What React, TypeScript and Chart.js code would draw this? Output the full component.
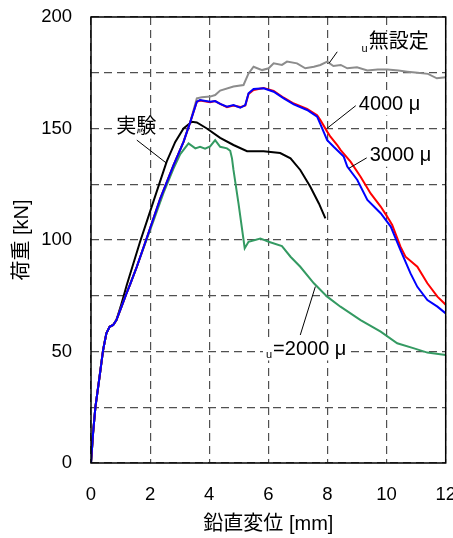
import { useEffect, useRef } from "react";
import { Chart, registerables } from "chart.js";
Chart.register(...registerables);

// ---- data (x: 鉛直変位 [mm], y: 荷重 [kN]) ----
const xTicks = [0, 2, 4, 6, 8, 10, 12];
const yTickLabels = [0, 50, 100, 150, 200];

const xNone = [0, 0.07, 0.15, 0.29, 0.41, 0.52, 0.63, 0.75, 0.86, 1.03, 1.2, 1.32, 1.55, 1.89, 2.34, 2.79, 3.13, 3.36, 3.58, 3.75, 4.03, 4.2, 4.37, 4.82, 5.16, 5.33, 5.5, 5.79, 6.01, 6.18, 6.46, 6.63, 6.97, 7.25, 7.54, 7.76, 7.99, 8.2, 8.45, 8.67, 9.0, 9.35, 9.7, 10.03, 10.4, 10.7, 11.05, 11.4, 11.7, 12];
const yNone = [0, 13.4, 25.2, 38.7, 50.7, 58.2, 61.1, 61.9, 64.1, 70, 76, 80, 88, 101, 118.5, 133.5, 144, 153, 163.5, 164, 164.3, 165, 167, 168.8, 169.5, 174.7, 177.7, 176.2, 177, 179.2, 178.5, 180, 179.2, 177, 177.7, 178.5, 180, 178, 178.5, 177, 177.5, 176, 176.5, 176.5, 176, 175.5, 175, 174.5, 172.5, 173];

const xExp = [0, 0.07, 0.15, 0.29, 0.41, 0.52, 0.63, 0.75, 0.86, 1.0, 1.21, 1.66, 2.11, 2.56, 2.85, 3.13, 3.41, 3.58, 3.92, 4.37, 4.82, 5.28, 5.84, 6.4, 6.75, 7.08, 7.42, 7.71, 7.93];
const yExp = [0, 13.4, 25.2, 38.7, 50.7, 58.2, 61.1, 61.9, 64.1, 70, 79.8, 99.2, 117.2, 135.1, 144, 150, 153, 152.7, 150, 145.8, 142.6, 139.8, 139.8, 139, 136.6, 131.4, 123.9, 116.4, 109.7];

const x2000 = [0, 0.07, 0.15, 0.29, 0.41, 0.52, 0.63, 0.75, 0.86, 1.03, 1.2, 1.32, 1.55, 1.89, 2.11, 2.45, 2.79, 3.02, 3.3, 3.53, 3.69, 3.86, 4.03, 4.2, 4.37, 4.6, 4.71, 4.77, 4.82, 4.99, 5.2, 5.33, 5.73, 6.01, 6.46, 6.75, 7.08, 7.54, 7.99, 8.44, 9.12, 9.8, 10.36, 10.93, 11.38, 12];
const y2000 = [0, 13.4, 25.2, 38.7, 50.7, 58.2, 61.1, 61.9, 64.1, 70, 76, 80, 88, 100.5, 108.5, 121, 132, 138.5, 143.3, 141.1, 141.8, 141, 142, 144.8, 141.8, 141.1, 140, 136.6, 131.4, 116.4, 96.3, 99.2, 100.7, 99.2, 97.3, 92.5, 88, 80.6, 74.6, 70.1, 64.1, 58.9, 53.7, 51.4, 49.5, 48.4];

const x4000 = [0, 0.07, 0.15, 0.29, 0.41, 0.52, 0.63, 0.75, 0.86, 1.03, 1.2, 1.32, 1.55, 1.89, 2.34, 2.79, 3.13, 3.36, 3.58, 3.69, 4.03, 4.2, 4.37, 4.6, 4.82, 5.05, 5.22, 5.33, 5.5, 5.84, 6.18, 6.52, 6.86, 7.31, 7.65, 7.76, 7.99, 8.1, 8.33, 8.44, 8.78, 9.12, 9.46, 9.8, 10.02, 10.19, 10.47, 10.64, 11.04, 11.38, 11.72, 12];
const y4000 = [0, 13.4, 25.2, 38.7, 50.7, 58.2, 61.1, 61.9, 64.1, 70, 76, 80, 88, 101, 118.5, 133.5, 144, 153, 162, 162.5, 161.8, 162.3, 161, 159.6, 160.3, 159.6, 160.3, 165.5, 167.3, 168.2, 166.8, 163.8, 161.2, 158.8, 156, 153.8, 148.6, 146.3, 142.6, 140.4, 135.1, 128.4, 120.9, 115, 110.5, 106.7, 97, 92.5, 88, 80.6, 74.6, 71];

const x3000 = [0, 0.07, 0.15, 0.29, 0.41, 0.52, 0.63, 0.75, 0.86, 1.03, 1.2, 1.32, 1.55, 1.89, 2.34, 2.79, 3.13, 3.36, 3.58, 3.69, 4.03, 4.2, 4.37, 4.6, 4.82, 5.05, 5.22, 5.33, 5.5, 5.84, 6.18, 6.52, 6.86, 7.31, 7.65, 7.76, 7.99, 8.21, 8.55, 8.67, 9.01, 9.35, 9.8, 10.14, 10.47, 10.81, 11.04, 11.38, 11.72, 12];
const y3000 = [0, 13.4, 25.2, 38.7, 50.7, 58.2, 61.1, 61.9, 64.1, 70, 76, 80, 88, 101, 118.5, 133.5, 144, 153, 162, 162.8, 162, 162.3, 161, 159.8, 160.5, 159.3, 160.5, 165.8, 167.7, 168, 166.5, 163.5, 160.8, 158.3, 155.3, 152, 144.8, 141.8, 137.4, 132.9, 126.9, 118, 112, 106, 95.5, 85, 79, 73.1, 70.1, 67.1];

// annotation texts (anchored in data units)
const labelTexts = ["無設定", "4000 μ", "3000 μ", "実験", "=2000 μ"];
const labelSubs = ["u", "", "", "", "u"];
const labelX = [10.41, 10.1, 10.47, 1.53, 7.4];
const labelY = [188.5, 160.8, 137.8, 150.4, 50.9];
const leaderFrom = [[8.33, 184.4], [9.06, 161.3], [9.4, 137.4], [1.55, 144.8], [7.08, 57.4]];
const leaderTo = [[8.05, 179.2], [7.99, 150.1], [8.72, 132.1], [2.56, 134.4], [7.59, 79.1]];

const FONT = '"Liberation Sans", Arial, "Noto Sans CJK JP", sans-serif';

const pts = (xs: number[], ys: number[]) => xs.map((x, i) => ({ x, y: ys[i] }));

const overlay = {
  id: "overlay",
  afterDatasetsDraw(chart: any) {
    const { ctx, chartArea: a, scales } = chart;
    const xs = scales.x;
    const ys = scales.y;
    ctx.save();
    ctx.strokeStyle = "#000";
    ctx.lineWidth = 1;
    ctx.setLineDash([]);
    for (let i = 0; i < leaderFrom.length; i++) {
      ctx.beginPath();
      ctx.moveTo(xs.getPixelForValue(leaderFrom[i][0]), ys.getPixelForValue(leaderFrom[i][1]));
      ctx.lineTo(xs.getPixelForValue(leaderTo[i][0]), ys.getPixelForValue(leaderTo[i][1]));
      ctx.stroke();
    }
    const size = 20;
    const subSize = 11;
    for (let i = 0; i < labelTexts.length; i++) {
      const cx = xs.getPixelForValue(labelX[i]);
      const cy = ys.getPixelForValue(labelY[i]);
      ctx.font = `${size}px ${FONT}`;
      const w = ctx.measureText(labelTexts[i]).width;
      ctx.font = `${subSize}px ${FONT}`;
      const sw = labelSubs[i] ? ctx.measureText(labelSubs[i]).width + 1 : 0;
      const left = cx - w / 2 - sw;
      ctx.fillStyle = "#fff";
      ctx.fillRect(left - 3, cy - size / 2 - 1, w + sw + 6, size + 2);
      ctx.fillStyle = "#000";
      ctx.textAlign = "left";
      if (labelSubs[i]) {
        ctx.textBaseline = "alphabetic";
        ctx.fillText(labelSubs[i], left, cy + 9);
      }
      ctx.font = `${size}px ${FONT}`;
      ctx.textBaseline = "middle";
      ctx.fillText(labelTexts[i], cx - w / 2, cy);
    }
    ctx.strokeStyle = "#000";
    ctx.lineWidth = 1.5;
    ctx.strokeRect(a.left, a.top, a.right - a.left, a.bottom - a.top);
    ctx.restore();
  },
};

export default function App() {
  const ref = useRef<HTMLCanvasElement>(null);
  useEffect(() => {
    if (!ref.current) return;
    const common = { pointRadius: 0, borderWidth: 2, tension: 0, fill: false };
    const chart = new Chart(ref.current, {
      type: "line",
      data: {
        // first dataset is drawn on top
        datasets: [
          { ...common, label: "3000 μ", data: pts(x3000, y3000), borderColor: "#0000ff" },
          { ...common, label: "4000 μ", data: pts(x4000, y4000), borderColor: "#ff0000" },
          { ...common, label: "u=2000 μ", data: pts(x2000, y2000), borderColor: "#349a62" },
          { ...common, label: "実験", data: pts(xExp, yExp), borderColor: "#000000" },
          { ...common, label: "u無設定", data: pts(xNone, yNone), borderColor: "#8c8c8c" },
        ],
      },
      options: {
        responsive: false,
        animation: false,
        devicePixelRatio: 1,
        layout: { padding: { left: 0, right: 7.3, top: 17, bottom: 0 } },
        plugins: { legend: { display: false }, tooltip: { enabled: false } },
        scales: {
          x: {
            type: "linear",
            min: xTicks[0],
            max: xTicks[xTicks.length - 1],
            afterBuildTicks: (s: any) => { s.ticks = xTicks.map((v) => ({ value: v })); },
            afterFit: (s: any) => { s.height = 75; s.paddingLeft = 0; s.paddingRight = 0; },
            ticks: { autoSkip: false, maxRotation: 0, padding: 21, color: "#000", font: { family: FONT, size: 18.5 } },
            grid: { color: "#505050", lineWidth: 1.2, drawTicks: false },
            border: { display: false, dash: [8, 5] },
            title: { display: true, text: "鉛直変位 [mm]", color: "#000", font: { family: FONT, size: 20 }, padding: { top: 0, bottom: 2 } },
          },
          y: {
            type: "linear",
            min: 0,
            max: 200,
            ticks: {
              stepSize: 25,
              autoSkip: false,
              padding: 19,
              color: "#000",
              font: { family: FONT, size: 18.5 },
              callback: (v: any) => (yTickLabels.includes(Number(v)) ? String(v) : ""),
            },
            afterFit: (s: any) => { s.width = 91; s.paddingTop = 0; s.paddingBottom = 0; },
            grid: { color: "#505050", lineWidth: 1.2, drawTicks: false },
            border: { display: false, dash: [8, 5] },
            title: { display: true, text: "荷重 [kN]", color: "#000", font: { family: FONT, size: 20 }, padding: { top: 10, bottom: 0 } },
          },
        },
      },
      plugins: [overlay],
    });
    return () => chart.destroy();
  }, []);
  return (
    <div style={{ position: "absolute", left: 0, top: 0, width: 453, height: 538, background: "#fff" }}>
      <canvas ref={ref} width={453} height={538} style={{ display: "block", width: 453, height: 538 }} />
    </div>
  );
}
